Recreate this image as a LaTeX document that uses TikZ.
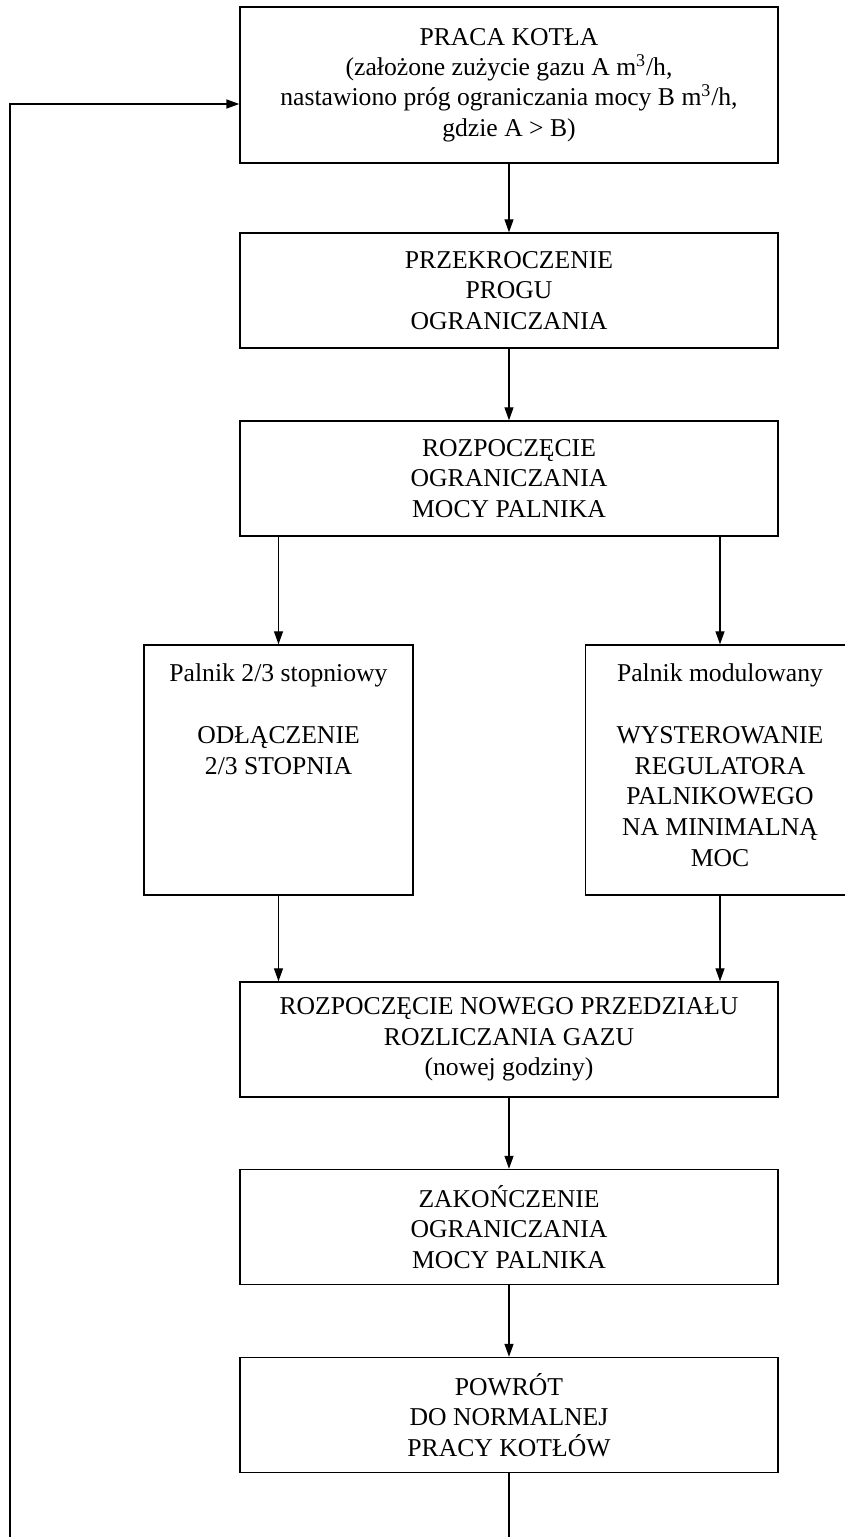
\documentclass[tikz,border=0pt]{standalone}
\usepackage{fontspec}
\setmainfont{Liberation Serif}
\usetikzlibrary{arrows.meta}

\begin{document}
\begin{tikzpicture}[
		box/.style={draw, line width=0.8pt, minimum width=10.76cm, minimum height=2.3cm, align=center, font=\fontsize{14.6}{17.3}\selectfont},
		sidebox/.style={draw, line width=0.8pt, minimum width=5.38cm, minimum height=5cm, inner sep=0pt, font=\fontsize{14.6}{17.5}\selectfont},
		arrow/.style={->, line width=0.7pt},
		>={Triangle[length=0.26cm, width=0.18cm]}]
		\useasboundingbox (0,0) rectangle (16.88,-30.74);
		\node[box, minimum height=3.12cm] (praca) at (10.18,-1.70) {PRACA KOTŁA\\(założone zużycie gazu A m\textsuperscript{3}/h,\\nastawiono próg ograniczania mocy B m\textsuperscript{3}/h,\\gdzie A > B)};
		\node[box] (prog) at (10.18,-5.81) {PRZEKROCZENIE\\PROGU\\OGRANICZANIA};
		\node[box] (start) at (10.18,-9.57) {ROZPOCZĘCIE\\OGRANICZANIA\\MOCY PALNIKA};
		\node[sidebox] (stopn) at (5.57,-15.40) {\parbox[c][5cm][t]{5.3cm}{\centering\vspace*{0.38cm}Palnik 2/3 stopniowy\\[17.5pt]ODŁĄCZENIE\\2/3 STOPNIA}};
		\node[sidebox] (modul) at (14.40,-15.40) {\parbox[c][5cm][t]{5.3cm}{\centering\vspace*{0.38cm}Palnik modulowany\\[17.5pt]WYSTEROWANIE\\REGULATORA\\PALNIKOWEGO\\NA MINIMALNĄ\\MOC}};
		\node[box] (nowy) at (10.18,-20.79) {ROZPOCZĘCIE NOWEGO PRZEDZIAŁU\\ROZLICZANIA GAZU\\(nowej godziny)};
		\node[box] (koniec) at (10.18,-24.54) {ZAKOŃCZENIE\\OGRANICZANIA\\MOCY PALNIKA};
		\node[box] (powrot) at (10.18,-28.30) {POWRÓT\\DO NORMALNEJ\\PRACY KOTŁÓW};
		\coordinate (loopbot) at (0.20,-31.2);
		\coordinate (loopin) at (0.20,-2.08);
		\draw[arrow] (praca) -- (prog);
		\draw[arrow] (prog) -- (start);
		\draw[arrow] (stopn.north |- start.south) -- (stopn.north);
		\draw[arrow] (modul.north |- start.south) -- (modul.north);
		\draw[arrow] (stopn.south) -- (stopn.south |- nowy.north);
		\draw[arrow] (modul.south) -- (modul.south |- nowy.north);
		\draw[arrow] (nowy) -- (koniec);
		\draw[arrow] (koniec) -- (powrot);
		\draw[line width=0.7pt] (powrot.south) -- (powrot.south |- loopbot);
		\draw[->, line width=0.9pt] (powrot.south |- loopbot) -- (loopbot) -- (loopin) -- (loopin -| praca.west);
	\end{tikzpicture}
\end{document}
